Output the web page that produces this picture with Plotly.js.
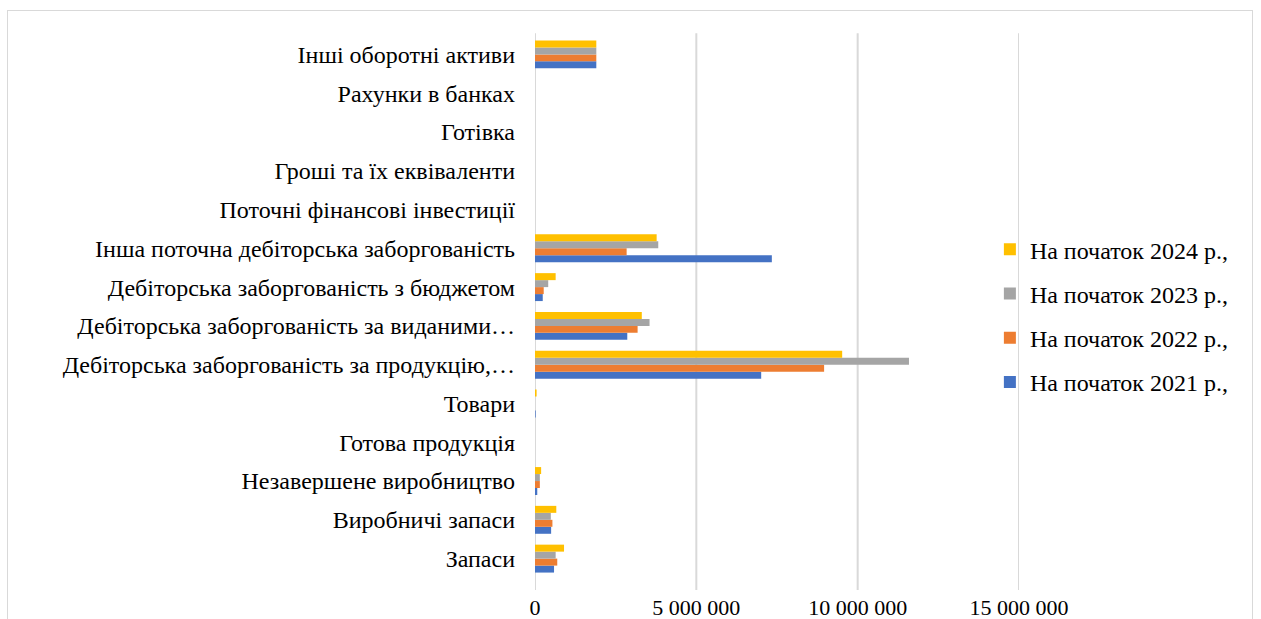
<!DOCTYPE html>
<html>
<head>
<meta charset="utf-8">
<script src="https://cdn.plot.ly/plotly-3.0.1.min.js"></script>
<style>
  html, body { margin: 0; padding: 0; background: #ffffff; }
  #wrap { position: relative; width: 1261px; height: 619px; overflow: hidden; }
  #frame { position: absolute; left: 7px; top: 10px; width: 1246px; height: 640px;
           border: 1.5px solid #d9d9d9; box-sizing: border-box; pointer-events: none; }
  #chart { position: absolute; left: 0; top: 0; width: 1261px; height: 619px; }
</style>
</head>
<body>
<div id="wrap">
  <div id="chart"></div>
  <div id="frame"></div>
</div>
<script>
// Категорії оборотних активів (знизу вгору)
const categories = [
  "Запаси",
  "Виробничі запаси",
  "Незавершене виробництво",
  "Готова продукція",
  "Товари",
  "Дебіторська заборгованість за продукцію,…",
  "Дебіторська заборгованість за виданими…",
  "Дебіторська заборгованість з бюджетом",
  "Інша поточна дебіторська заборгованість",
  "Поточні фінансові інвестиції",
  "Гроші та їх еквіваленти",
  "Готівка",
  "Рахунки в банках",
  "Інші оборотні активи"
];

// Значення, грн
const values2021 = [590000, 500000, 70000, 0, 20000, 7010000, 2860000, 240000, 7340000, 0, 0, 0, 0, 1900000];
const values2022 = [690000, 540000, 150000, 0, 0, 8960000, 3180000, 270000, 2840000, 0, 0, 0, 0, 1900000];
const values2023 = [640000, 490000, 150000, 0, 0, 11590000, 3550000, 410000, 3820000, 0, 0, 0, 0, 1900000];
const values2024 = [900000, 660000, 190000, 0, 50000, 9520000, 3310000, 640000, 3770000, 0, 0, 0, 0, 1900000];

const seriesNames = ["На початок 2021 р.,", "На початок 2022 р.,", "На початок 2023 р.,", "На початок 2024 р.,"];
const seriesValues = [values2021, values2022, values2023, values2024];
const seriesColors = ["#4472c4", "#ed7d31", "#a5a5a5", "#ffc000"];

const tickVals = [0, 5000000, 10000000, 15000000];
const tickText = ["0", "5 000 000", "10 000 000", "15 000 000"];

const serif = "Liberation Serif, Times New Roman, serif";

const traces = seriesNames.map((name, i) => ({
  type: "bar",
  orientation: "h",
  name: name,
  y: categories,
  x: seriesValues[i],
  legendgroup: "g" + i,
  legendrank: seriesNames.length - i,
  marker: { color: seriesColors[i], line: { width: 0 } },
  hoverinfo: "x+y+name"
}));

// Вертикальні лінії сітки на позиціях поділок
const gridShapes = tickVals.map(v => ({
  type: "line",
  xref: "x", yref: "paper",
  x0: v, x1: v, y0: -0.022, y1: 1.003,
  line: { color: "#d9d9d9", width: 2 },
  layer: "below"
}));

const layout = {
  width: 1261,
  height: 619,
  font: { family: serif, color: "#000000" },
  paper_bgcolor: "rgba(0,0,0,0)",
  plot_bgcolor: "rgba(0,0,0,0)",
  margin: { l: 535, r: 242, t: 35, b: 41, pad: 0, autoexpand: false },
  barmode: "group",
  bargap: 0.28,
  bargroupgap: 0,
  showlegend: true,
  shapes: gridShapes,
  legend: {
    xref: "container", yref: "container",
    x: 0.785, y: 0.49, xanchor: "left", yanchor: "middle",
    traceorder: "grouped",
    tracegroupgap: 10,
    bgcolor: "rgba(0,0,0,0)",
    font: { family: serif, size: 24, color: "#000000" }
  },
  xaxis: {
    range: [0, 15000000],
    tickvals: tickVals,
    ticktext: tickText,
    showgrid: false,
    zeroline: false,
    showline: false,
    ticks: "",
    ticklabelstandoff: 14,
    tickfont: { family: serif, size: 22, color: "#000000" },
    automargin: false,
    fixedrange: true
  },
  yaxis: {
    type: "category",
    categoryorder: "array",
    categoryarray: categories,
    showgrid: false,
    zeroline: false,
    showline: false,
    ticks: "",
    ticklabelstandoff: 19,
    tickfont: { family: serif, size: 24, color: "#000000" },
    automargin: false,
    fixedrange: true
  }
};

Plotly.newPlot("chart", traces, layout, { displayModeBar: false, staticPlot: true });
</script>
</body>
</html>
